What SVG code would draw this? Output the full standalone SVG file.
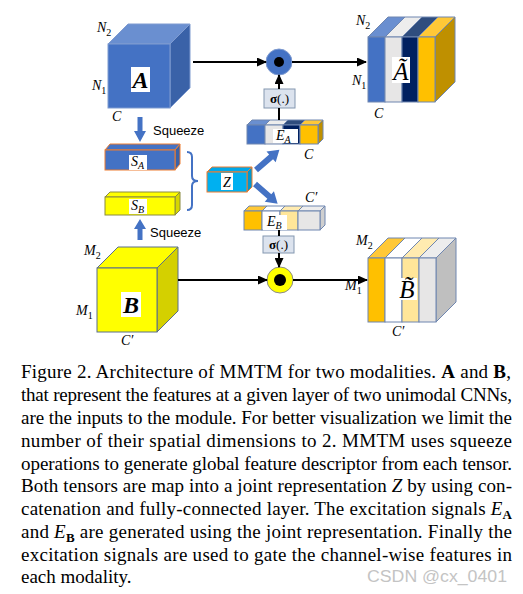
<svg xmlns="http://www.w3.org/2000/svg" width="523" height="594" viewBox="0 0 523 594">
<style>
.m{font-family:"Liberation Serif",serif;font-style:italic;font-size:14px;fill:#000}
.sub{font-size:10px;font-style:normal}
.isub{font-size:10px;font-style:italic}
.big{font-family:"Liberation Serif",serif;font-style:italic;font-weight:bold;font-size:24px;fill:#000}
.tl{font-family:"Liberation Serif",serif;font-style:italic;font-weight:normal;font-size:25px;fill:#000}
.lbl{fill:#fff}
.sq{font-family:"Liberation Sans",sans-serif;font-size:13px;fill:#000}
.sig{font-family:"Liberation Serif",serif;font-size:13px;fill:#000}
.cap{font-family:"Liberation Serif",serif;font-size:19px;fill:#000}
.ln{stroke:#000;stroke-width:2;fill:none}
.edge{stroke:#7F9BD0;stroke-width:1}
.edgeB{stroke:#5A6E8C;stroke-width:1}
.or{stroke:#ED7D31;stroke-width:1}
.ol{stroke:#8A8A40;stroke-width:1}
.bar{stroke:#6F86B0;stroke-width:1}
.box{fill:#DCE3EE;stroke:#8497B0;stroke-width:1}
.blk{fill:#4472C4}
</style>
<defs>
<marker id="ah" markerUnits="userSpaceOnUse" markerWidth="10" markerHeight="9" refX="9" refY="4.5" orient="auto">
<path d="M0,0 L10,4.5 L0,9 z" fill="#000"/>
</marker>
</defs>

<g id="cubeA">
<polygon class="edge" points="108,44 128,24 190,24 170,44" fill="#6A8FD0"/>
<polygon class="edge" points="170,44 190,24 190,88 170,108" fill="#3A62A8"/>
<rect class="edge" x="108" y="44" width="62" height="64" fill="#4472C4"/>
<rect class="lbl" x="131" y="67" width="19" height="25"/>
<text class="big" x="140.5" y="88" text-anchor="middle">A</text>
<text class="m" x="97" y="32">N<tspan class="sub" dy="4">2</tspan></text>
<text class="m" x="92" y="90">N<tspan class="sub" dy="4">1</tspan></text>
<text class="m" x="112" y="121">C</text>
</g>

<g id="squeezeA">
<polygon class="blk" points="137.5,117 142.5,117 142.5,131 146,131 140,142 134,131 137.5,131"/>
<text class="sq" x="153" y="135">Squeeze</text>
</g>

<g id="SA">
<polygon class="or" points="105,150 110,144 180,144 175,150" fill="#4472C4"/>
<polygon class="or" points="175,150 180,144 180,164 175,170" fill="#3A62A8"/>
<rect class="or" x="105" y="150" width="70" height="20" fill="#4472C4"/>
<rect class="lbl" x="129" y="155" width="18" height="15"/>
<text class="m" x="131" y="166" font-size="13">S<tspan class="isub" dy="3">A</tspan></text>
</g>

<g id="SB">
<polygon class="ol" points="105,197 110,192 180,192 175,197" fill="#FFFF00"/>
<polygon class="ol" points="175,197 180,192 180,210 175,215" fill="#D6D600"/>
<rect class="ol" x="105" y="197" width="70" height="18" fill="#FFFF00"/>
<rect class="lbl" x="129" y="199" width="18" height="15"/>
<text class="m" x="131" y="210" font-size="13">S<tspan class="isub" dy="3">B</tspan></text>
</g>

<g id="squeezeB">
<polygon class="blk" points="137.5,240 142.5,240 142.5,229 146,229 140,219 134,229 137.5,229"/>
<text class="sq" x="150" y="237">Squeeze</text>
</g>

<g id="bracket">
<path d="M187,152 Q192,152 192,157 L192,176 Q192,181 198,181 Q192,181 192,186 L192,205 Q192,210 187,210" fill="none" stroke="#4472C4" stroke-width="2"/>
</g>

<g id="Z">
<polygon class="or" points="207,172 212,167 252,167 247,172" fill="#00A8E8"/>
<polygon class="or" points="247,172 252,167 252,187 247,192" fill="#0098D0"/>
<rect class="or" x="207" y="172" width="40" height="20" fill="#00B0F0"/>
<rect class="lbl" x="221" y="173" width="12" height="17"/>
<text class="m" x="227" y="187" text-anchor="middle">Z</text>
</g>

<g id="EA">
<polygon class="bar" points="247,125 252,120 270,120 265,125" fill="#6A8FD0"/>
<polygon class="bar" points="265,125 270,120 288,120 283,125" fill="#EDEDED"/>
<polygon class="bar" points="283,125 288,120 305,120 300,125" fill="#2F4D7E"/>
<polygon class="bar" points="300,125 305,120 323,120 318,125" fill="#FFC837"/>
<polygon class="bar" points="318,125 323,120 323,139 318,144" fill="#BF9000"/>
<rect class="bar" x="247" y="125" width="18" height="19" fill="#4472C4"/>
<rect class="bar" x="265" y="125" width="18" height="19" fill="#E7E6E6"/>
<rect class="bar" x="283" y="125" width="17" height="19" fill="#002060"/>
<rect class="bar" x="300" y="125" width="18" height="19" fill="#FFC000"/>
<rect class="lbl" x="273" y="129" width="25" height="14"/>
<text class="m" x="276" y="140" font-size="13">E<tspan class="isub" dy="3">A</tspan></text>
<text class="m" x="304" y="159">C</text>
</g>

<g id="EB">
<polygon class="bar" points="244,211 249,206 267,206 262,211" fill="#FFC837"/>
<polygon class="bar" points="262,211 267,206 285,206 280,211" fill="#FFFFFF"/>
<polygon class="bar" points="280,211 285,206 303,206 298,211" fill="#FFEBB0"/>
<polygon class="bar" points="298,211 303,206 325,206 320,211" fill="#EDEDED"/>
<polygon class="bar" points="320,211 325,206 325,225 320,230" fill="#CFCFCF"/>
<rect class="bar" x="244" y="211" width="18" height="19" fill="#FFC000"/>
<rect class="bar" x="262" y="211" width="18" height="19" fill="#FFFFFF"/>
<rect class="bar" x="280" y="211" width="18" height="19" fill="#FFE699"/>
<rect class="bar" x="298" y="211" width="22" height="19" fill="#E7E6E6"/>
<rect class="lbl" x="263" y="215" width="24" height="15"/>
<text class="m" x="267" y="226" font-size="13">E<tspan class="isub" dy="3">B</tspan></text>
<text class="m" x="305" y="202">C′</text>
</g>

<g id="sigmaA">
<rect class="box" x="264" y="89" width="31" height="19"/>
<text class="sig" x="279.5" y="103" text-anchor="middle"><tspan font-weight="bold">σ</tspan>(.)</text>
</g>

<g id="sigmaB">
<rect class="box" x="263" y="236" width="31" height="17"/>
<text class="sig" x="278.5" y="249" text-anchor="middle"><tspan font-weight="bold">σ</tspan>(.)</text>
</g>

<g id="gateA">
<circle cx="279" cy="62" r="13" fill="#4472C4" stroke="#7F9BD0" stroke-width="1"/>
<circle cx="279" cy="62" r="5" fill="#000"/>
</g>

<g id="gateB">
<circle cx="280" cy="280" r="13" fill="#FFFF00" stroke="#8A8A8A" stroke-width="1"/>
<circle cx="280" cy="280" r="6" fill="#000"/>
</g>

<g id="zArrows">
<polygon class="blk" transform="translate(256,170) rotate(-41)" points="0,-3 20,-3 20,-7 31,0 20,7 20,3 0,3"/>
<polygon class="blk" transform="translate(255,184) rotate(41)" points="0,-3 19,-3 19,-7 30,0 19,7 19,3 0,3"/>
</g>

<g id="cubeAt">
<polygon class="bar" points="368,37 388,17 405,17 385,37" fill="#6A8FD0"/>
<polygon class="bar" points="385,37 405,17 422,17 402,37" fill="#EDEDED"/>
<polygon class="bar" points="402,37 422,17 438,17 418,37" fill="#2F4D7E"/>
<polygon class="bar" points="418,37 438,17 455,17 435,37" fill="#FFC837"/>
<polygon class="bar" points="435,37 455,17 455,82 435,102" fill="#BF9000"/>
<rect class="bar" x="368" y="37" width="17" height="65" fill="#4472C4"/>
<rect class="bar" x="385" y="37" width="17" height="65" fill="#E7E6E6"/>
<rect class="bar" x="402" y="37" width="16" height="65" fill="#002060"/>
<rect class="bar" x="418" y="37" width="17" height="65" fill="#FFC000"/>
<rect class="lbl" x="392" y="57" width="18" height="26"/>
<text class="tl" x="401" y="80" text-anchor="middle">Ã</text>
<text class="m" x="356" y="25">N<tspan class="sub" dy="4">2</tspan></text>
<text class="m" x="352" y="85">N<tspan class="sub" dy="4">1</tspan></text>
<text class="m" x="374" y="118">C</text>
</g>

<g id="cubeB">
<polygon class="edgeB" points="97,268 118,247 178,247 157,268" fill="#FFFF00"/>
<polygon class="edgeB" points="157,268 178,247 178,311 157,332" fill="#D4D000"/>
<rect class="edgeB" x="97" y="268" width="60" height="64" fill="#FFFF00"/>
<rect class="lbl" x="121" y="292" width="20" height="25"/>
<text class="big" x="131" y="313" text-anchor="middle">B</text>
<text class="m" x="84" y="255">M<tspan class="sub" dy="4">2</tspan></text>
<text class="m" x="76" y="315">M<tspan class="sub" dy="4">1</tspan></text>
<text class="m" x="121" y="345">C′</text>
</g>

<g id="cubeBt">
<polygon class="bar" points="368,258 388,238 405,238 385,258" fill="#FFC837"/>
<polygon class="bar" points="385,258 405,238 422,238 402,258" fill="#FFFFFF"/>
<polygon class="bar" points="402,258 422,238 439,238 419,258" fill="#FFEBB0"/>
<polygon class="bar" points="419,258 439,238 456,238 436,258" fill="#EDEDED"/>
<polygon class="bar" points="436,258 456,238 456,302 436,322" fill="#BFBFBF"/>
<rect class="bar" x="368" y="258" width="17" height="64" fill="#FFC000"/>
<rect class="bar" x="385" y="258" width="17" height="64" fill="#FFFFFF"/>
<rect class="bar" x="402" y="258" width="17" height="64" fill="#FFE699"/>
<rect class="bar" x="419" y="258" width="17" height="64" fill="#E7E6E6"/>
<rect class="lbl" x="397" y="278" width="20" height="22"/>
<text class="tl" x="407" y="298" text-anchor="middle">B̃</text>
<text class="m" x="356" y="245">M<tspan class="sub" dy="4">2</tspan></text>
<text class="m" x="345" y="290">M<tspan class="sub" dy="4">1</tspan></text>
<text class="m" x="392" y="336">C′</text>
</g>

<g id="connectors">
<line class="ln" x1="193" y1="62" x2="266" y2="62" marker-end="url(#ah)"/>
<line class="ln" x1="292" y1="62" x2="366" y2="62" marker-end="url(#ah)"/>
<line class="ln" x1="279" y1="89" x2="279" y2="75" marker-end="url(#ah)"/>
<line class="ln" x1="279" y1="108" x2="279" y2="120"/>
<line class="ln" x1="279" y1="230" x2="279" y2="236"/>
<line class="ln" x1="279" y1="253" x2="279" y2="267" marker-end="url(#ah)"/>
<line class="ln" x1="178" y1="280" x2="267" y2="280" marker-end="url(#ah)"/>
<line class="ln" x1="293" y1="280" x2="367" y2="280" marker-end="url(#ah)"/>
</g>

<g id="caption">
<text class="cap" x="21" y="378" textLength="490" lengthAdjust="spacing">Figure 2. Architecture of MMTM for two modalities.  <tspan font-weight="bold">A</tspan> and <tspan font-weight="bold">B</tspan>,</text>
<text class="cap" x="21" y="401" textLength="491" lengthAdjust="spacing">that represent the features at a given layer of two unimodal CNNs,</text>
<text class="cap" x="21" y="424" textLength="491" lengthAdjust="spacing">are the inputs to the module. For better visualization we limit the</text>
<text class="cap" x="21" y="447" textLength="491" lengthAdjust="spacing">number of their spatial dimensions to 2.  MMTM uses squeeze</text>
<text class="cap" x="21" y="470" textLength="491" lengthAdjust="spacing">operations to generate global feature descriptor from each tensor.</text>
<text class="cap" x="21" y="492" textLength="491" lengthAdjust="spacing">Both tensors are map into a joint representation <tspan font-style="italic">Z</tspan> by using con-</text>
<text class="cap" x="21" y="515" textLength="491" lengthAdjust="spacing">catenation and fully-connected layer.  The excitation signals <tspan font-style="italic">E</tspan><tspan font-weight="bold" font-size="13" dy="4">A</tspan></text>
<text class="cap" x="21" y="538" textLength="491" lengthAdjust="spacing">and <tspan font-style="italic">E</tspan><tspan font-weight="bold" font-size="13" dy="4">B</tspan><tspan dy="-4"> are generated using the joint representation.  Finally the</tspan></text>
<text class="cap" x="21" y="561" textLength="491" lengthAdjust="spacing">excitation signals are used to gate the channel-wise features in</text>
<text class="cap" x="21" y="583">each modality.</text>
<text x="367" y="582" font-family="Liberation Sans,sans-serif" font-size="16" fill="#C4C4C4" textLength="140" lengthAdjust="spacingAndGlyphs">CSDN @cx_0401</text>
</g>
</svg>
